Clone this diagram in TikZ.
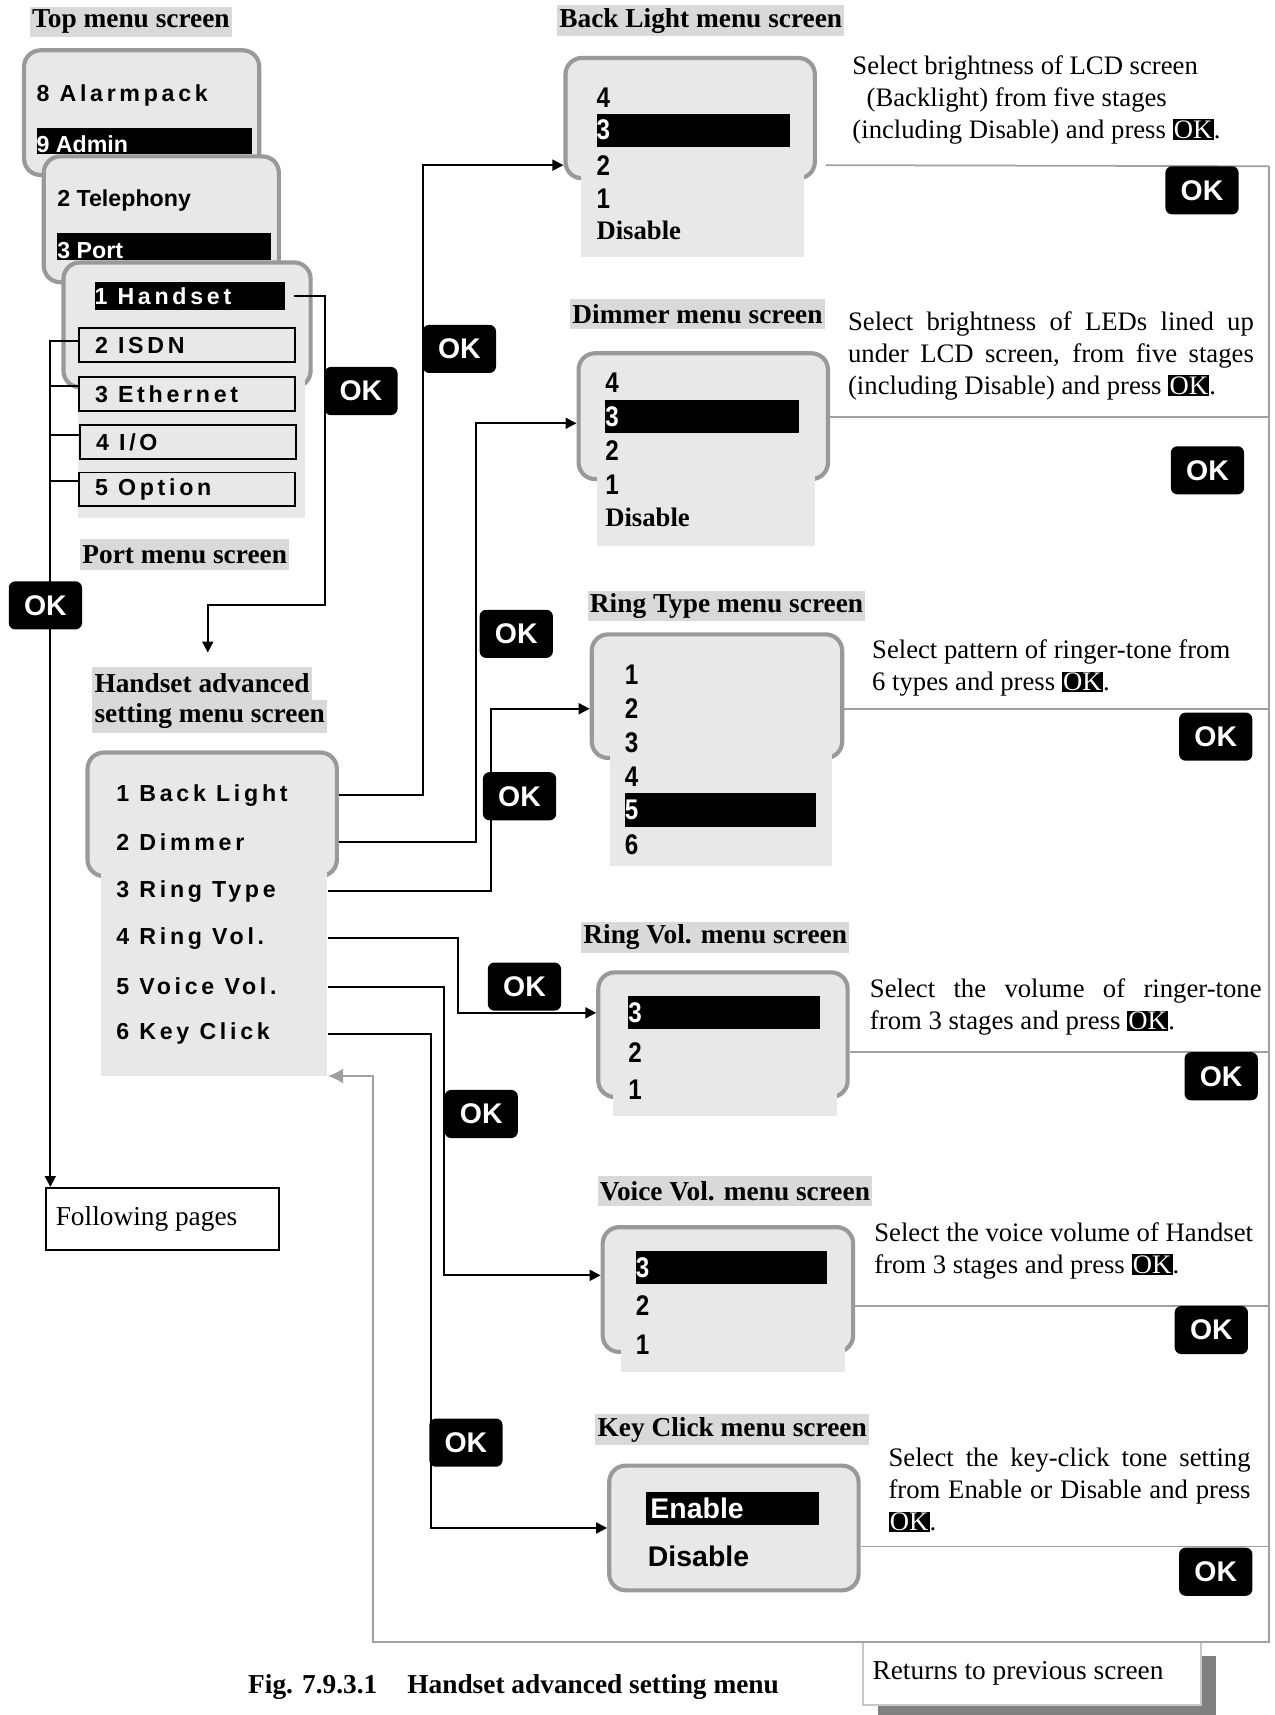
\documentclass[tikz,border=0pt]{standalone}
\usepackage{fontspec}
\setmainfont{Liberation Serif}
\newfontfamily\menusf[LetterSpace=16]{Liberation Sans}
\newfontfamily\plainsf{Liberation Sans}
\newfontfamily\narrowsf[FakeStretch=0.85]{Liberation Sans}
\usetikzlibrary{arrows.meta,positioning,shadows}
\definecolor{scrFill}{HTML}{E8E8E8}
\definecolor{scrLine}{HTML}{999999}
\definecolor{tagFill}{HTML}{D9D9D9}
\definecolor{retGray}{HTML}{A0A0A0}
\newcommand{\bodysz}{\fontsize{12.2}{14.65}\selectfont}
\newcommand{\tagsz}{\fontsize{12.5}{15}\selectfont}
\newcommand{\menusz}{\fontsize{10.6}{12}\selectfont}
\newcommand{\digitsz}{\fontsize{13}{15}\selectfont}
\newcommand{\okmark}{{\setlength{\fboxsep}{0.6pt}\colorbox{black}{\textcolor{white}{OK}}}}
\tikzset{
  natspace/.style={execute at begin node={\spaceskip=0pt\xspaceskip=0pt\relax}},
  tag/.style={fill=tagFill, inner xsep=1pt, inner ysep=0pt, minimum height=14pt, anchor=west, font=\bfseries\tagsz},
  screen/.style={draw=scrLine, line width=1.9pt, fill=scrFill, rounded corners=7.5pt},
  scrext/.style={fill=scrFill, inner sep=0pt, anchor=north west},
  menutxt/.style={anchor=west, inner sep=0pt, font=\menusf\bfseries\menusz},
  plaintxt/.style={anchor=west, inner sep=0pt, font=\plainsf\bfseries\menusz},
  hibar/.style={natspace, fill=black, text=white, anchor=west, inner xsep=0pt, inner ysep=0pt, align=left, minimum height=15pt},
  itembox/.style={natspace, draw=black, line width=0.9pt, fill=scrFill, anchor=west, inner xsep=7.5pt, inner ysep=0pt, text width=84pt, minimum height=15.5pt, align=left, font=\menusf\bfseries\menusz},
  digit/.style={anchor=west, inner sep=0pt, font=\narrowsf\bfseries\digitsz},
  distxt/.style={anchor=west, inner sep=0pt, font=\bfseries\bodysz},
  kctxt/.style={anchor=west, inner sep=0pt, font=\plainsf\bfseries\digitsz},
  okbtn/.style={fill=black, text=white, rounded corners=3pt, minimum width=33.5pt, minimum height=22pt, inner sep=0pt, font=\plainsf\bfseries\digitsz},
  desc/.style={natspace, anchor=base west, inner sep=0pt, align=left, font=\bodysz},
  notebox/.style={natspace, draw=black, line width=0.8pt, fill=white, inner xsep=4.5pt, inner ysep=0pt, align=left, font=\tagsz},
  conn/.style={line width=0.9pt},
  arr/.style={conn, -{Triangle[length=5pt,width=5pt]}},
  ret/.style={draw=retGray, line width=0.8pt},
  retarr/.style={ret, -{Latex[length=7pt,width=7pt]}}
}
\begin{document}
\begin{tikzpicture}[x=0.5pt,y=-0.5pt]
  \useasboundingbox (0,0) rectangle (1165,1568);
  % top / port menus
  \node[tag] (toptag) at (27,20) {Top menu screen};
  \node[screen, minimum width=107.5pt, minimum height=57pt] (topA) at (129.5,103) {};
  \node[menutxt] (alarm) at (33,87) {8 Alarmpack};
  \node[hibar, text width=98.5pt, minimum height=12pt, text height=11pt, text depth=1pt, font=\plainsf\bfseries\menusz] (admin) at (33,129) {9 Admin};
  \node[screen, minimum width=107.5pt, minimum height=57.5pt] (topB) at (147.5,200.5) {};
  \node[plaintxt] (tele) at (52,183) {2 Telephony};
  \node[hibar, text width=97.5pt, minimum height=12.5pt, text height=11.5pt, text depth=1pt, font=\plainsf\bfseries\menusz] (portbar) at (52,225.5) {3 Port};
  \node[screen, minimum width=113pt, minimum height=57pt] (topC) at (171,297) {};
  \node[scrext, minimum width=103.5pt, minimum height=66.5pt] (portx) at (71,340) {};
  \node[hibar, text width=87pt, minimum height=12.5pt, font=\menusf\bfseries\menusz] (hsbar) at (86,270.5) {1 Handset};
  \node[itembox] (isdn) at (71,315.5) {2 ISDN};
  \node[itembox] (eth) at (71,360.5) {3 Ethernet};
  \node[itembox] (io) at (72,404.5) {4 I/O};
  \node[itembox] (opt) at (71,447.5) {5 Option};
  \node[tag] (porttag) at (73,507) {Port menu screen};
  \node[notebox, minimum width=106.5pt, minimum height=28.5pt, text width=97.5pt] (fp) at (148.5,1114.5) {Following pages};

  % handset advanced setting menu
  \node[tag, minimum height=15pt] (hstagA) at (84,625) {Handset advanced};
  \node[tag, minimum height=15pt] (hstagB) at (84,655) {setting menu screen};
  \node[screen, minimum width=114pt, minimum height=56.5pt] (hsscr) at (194,744.5) {};
  \node[scrext, minimum width=103.5pt, minimum height=96.5pt] (hsx) at (92,790) {};
  \node[menutxt] (hbl) at (106,727) {1 Back Light};
  \node[menutxt] (hdm) at (106,770) {2 Dimmer};
  \node[menutxt] (hrt) at (106,815) {3 Ring Type};
  \node[menutxt] (hrv) at (106,858) {4 Ring Vol.};
  \node[menutxt] (hvv) at (106,902) {5 Voice Vol.};
  \node[menutxt] (hkc) at (106,945) {6 Key Click};

  % back light
  \node[tag] (bltag) at (509,19) {Back Light menu screen};
  \node[screen, minimum width=114pt, minimum height=55pt] (blscr) at (631,108) {};
  \node[scrext, minimum width=102pt, minimum height=42.5pt] (blx) at (531,150) {};
  \node[digit] (bl4) at (545,89) {4};
  \node[hibar, text width=88.5pt, font=\narrowsf\bfseries\digitsz] (bl3) at (545,119) {3};
  \node[digit] (bl2) at (545,151) {2};
  \node[digit] (bl1) at (545,182) {1};
  \node[distxt] (bldis) at (545,211) {Disable};
  \node[desc, text width=176pt] (bldesc) at (779,68) {Select brightness of LCD screen\\\hspace*{6.5pt}(Backlight) from five stages\\(including Disable) and press \okmark.};

  % dimmer
  \node[tag] (dmtag) at (521,287) {Dimmer menu screen};
  \node[screen, minimum width=114pt, minimum height=57.5pt] (dmscr) at (643,380.5) {};
  \node[scrext, minimum width=100pt, minimum height=34.5pt] (dmx) at (545,430) {};
  \node[digit] (dm4) at (553,350) {4};
  \node[hibar, text width=88.5pt, font=\narrowsf\bfseries\digitsz] (dm3) at (553,381) {3};
  \node[digit] (dm2) at (553,412) {2};
  \node[digit] (dm1) at (553,443) {1};
  \node[distxt] (dmdis) at (553,473) {Disable};
  \node[desc, text width=186pt] (dmdesc) at (775,302) {\makebox[185.5pt][s]{Select brightness of LEDs lined up}\\\makebox[185.5pt][s]{under LCD screen, from five stages}\\(including Disable) and press \okmark.};

  % ring type
  \node[tag] (rttag) at (537,554) {Ring Type menu screen};
  \node[screen, minimum width=114.5pt, minimum height=56.5pt] (rtscr) at (655.5,636.5) {};
  \node[scrext, minimum width=101.5pt, minimum height=53pt] (rtx) at (557,685) {};
  \node[digit] (rt1) at (571,617) {1};
  \node[digit] (rt2) at (571,648) {2};
  \node[digit] (rt3) at (571,679) {3};
  \node[digit] (rt4) at (571,710) {4};
  \node[hibar, text width=87.5pt, minimum height=15.5pt, font=\narrowsf\bfseries\digitsz] (rt5) at (571,740.5) {5};
  \node[digit] (rt6) at (571,772) {6};
  \node[desc, text width=176pt] (rtdesc) at (797,602) {Select pattern of ringer-tone from\\6 types and press \okmark.};

  % ring vol.
  \node[tag] (rvtag) at (531,857) {Ring Vol. menu screen};
  \node[screen, minimum width=114pt, minimum height=57pt] (rvscr) at (661,946) {};
  \node[scrext, minimum width=102.5pt, minimum height=12.25pt] (rvx) at (560,995) {};
  \node[hibar, text width=87.5pt, font=\narrowsf\bfseries\digitsz] (rv3) at (574,926) {3};
  \node[digit] (rv2) at (574,962) {2};
  \node[digit] (rv1) at (574,996) {1};
  \node[desc, text width=180pt] (rvdesc) at (795,912) {\makebox[179pt][s]{Select the volume of ringer-tone}\\from 3 stages and press \okmark.};

  % voice vol.
  \node[tag] (vvtag) at (546,1089) {Voice Vol. menu screen};
  \node[screen, minimum width=114.5pt, minimum height=57pt] (vvscr) at (665.5,1179) {};
  \node[scrext, minimum width=102.5pt, minimum height=13pt] (vvx) at (567,1228) {};
  \node[hibar, text width=87.5pt, font=\narrowsf\bfseries\digitsz] (vv3) at (581,1159) {3};
  \node[digit] (vv2) at (581,1194) {2};
  \node[digit] (vv1) at (581,1229) {1};
  \node[desc, text width=180pt] (vvdesc) at (799,1135) {Select the voice volume of Handset\\from 3 stages and press \okmark.};

  % key click
  \node[tag] (kctag) at (544,1307) {Key Click menu screen};
  \node[screen, minimum width=114pt, minimum height=57pt] (kcscr) at (671,1397) {};
  \node[hibar, text width=79pt, font=\plainsf\bfseries\digitsz] (kcen) at (590,1379) {\,Enable};
  \node[kctxt] (kcdis) at (592,1423) {Disable};
  \node[desc, text width=166pt] (kcdesc) at (812,1341) {\makebox[165.5pt][s]{Select the key-click tone setting}\\\makebox[165.5pt][s]{from Enable or Disable and press}\\\okmark.};

  % return note and caption
  \node[notebox, draw=black!22, anchor=north west, minimum width=154.5pt, minimum height=28.5pt, text width=145.5pt,
        general shadow={fill=black!50, shadow xshift=7pt, shadow yshift=-6pt}] (retnote) at (788,1501) {Returns to previous screen};
  \node[font=\bfseries\tagsz] (caption) at (469.5,1542) {Fig. 7.9.3.1\hspace{1.1em}Handset advanced setting menu};

  % connectors
  \coordinate (brk) at (46,311);
  \coordinate (pj) at (297,553);
  \coordinate (pk) at (190,553);
  \coordinate (jbl) at (387,0);
  \coordinate (jdm) at (435,0);
  \coordinate (jrt) at (449,0);
  \coordinate (jrv) at (419,0);
  \coordinate (jvv) at (406,0);
  \coordinate (jkc) at (394,0);
  \coordinate (rtop) at (1160,152);
  \coordinate (rbot) at (1160,1501);
  \coordinate (rleft) at (341,1501);
  \coordinate (kcr) at ([yshift=-8.5pt]kcscr.east);
  \draw[arr] ([xshift=4pt]hsbar.east) -| (pj) -| ([yshift=6.5pt]hstagA.north -| pk);
  \draw[arr] ([yshift=2pt]isdn.west) -| (brk |- fp.north);
  \draw[conn] ([yshift=4pt]eth.west) -| (brk);
  \draw[conn] ([yshift=3.5pt]io.west) -| (brk);
  \draw[conn] ([yshift=4pt]opt.west) -| (brk);
  \draw[arr] (hsscr.east |- hbl) -| (jbl |- bl2) -- (blscr.west |- bl2);
  \draw[arr] (hsscr.east |- hdm) -| ([yshift=-3pt]jdm |- dm3) -- ([yshift=-3pt]dmscr.west |- dm3);
  \draw[arr] (hsx.east |- hrt) -| (jrt |- rt2) -- (rtscr.west |- rt2);
  \draw[arr] (hsx.east |- hrv) -| (jrv |- rv3) -- (rvscr.west |- rv3);
  \draw[arr] (hsx.east |- hvv) -| ([yshift=-3.5pt]jvv |- vv3) -- ([yshift=-3.5pt]vvscr.west |- vv3);
  \draw[arr] (hsx.east |- hkc) -| (jkc |- kcscr.west) -- (kcscr.west);
  \draw[ret] ([xshift=4pt]blscr.east |- bl2) -- (rtop);
  \draw[ret] (dmscr.east |- dm3) -- (rtop |- dm3);
  \draw[ret] (rtscr.east |- rt2) -- (rtop |- rt2);
  \draw[ret] (rvscr.east |- rv2) -- (rtop |- rv2);
  \draw[ret] (vvscr.east |- vv2) -- (rtop |- vv2);
  \draw[ret] (kcr) -- (rtop |- kcr);
  \draw[retarr] (rtop) -- (rbot) -- (rleft) |- (hsx.south east);

  % OK keys
  \node[okbtn] (okleft) at (41.5,553.5) {OK};
  \node[okbtn] (okport) at (330,357.5) {OK};
  \node[okbtn] (okbl) at (420,319) {OK};
  \node[okbtn] (okdm) at (472,579.5) {OK};
  \node[okbtn] (okrt) at (475,728) {OK};
  \node[okbtn] (okrv) at (479.5,902) {OK};
  \node[okbtn] (okvv) at (440,1018.5) {OK};
  \node[okbtn] (okkc) at (426,1319) {OK};
  \node[okbtn] (okblR) at (1099,174) {OK};
  \node[okbtn] (okdmR) at (1104,430) {OK};
  \node[okbtn] (okrtR) at (1111.5,673.5) {OK};
  \node[okbtn] (okrvR) at (1116.5,984) {OK};
  \node[okbtn] (okvvR) at (1107.5,1216) {OK};
  \node[okbtn] (okkcR) at (1111.5,1437) {OK};
\end{tikzpicture}
\end{document}
